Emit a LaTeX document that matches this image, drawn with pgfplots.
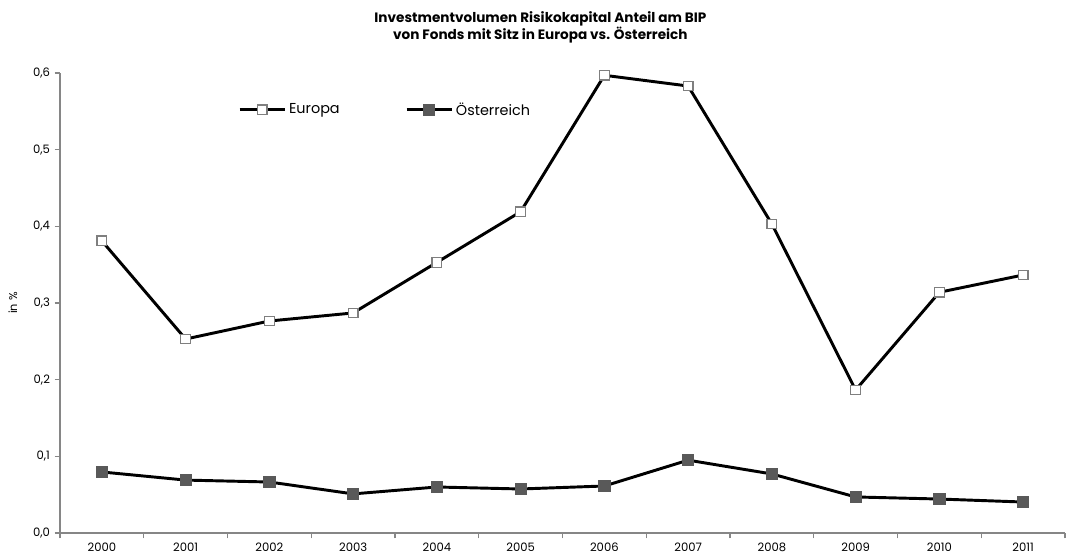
\documentclass[border=0pt]{standalone}
\usepackage{pgfplots}
\pgfplotsset{compat=1.18}
\usepackage{fontspec}
\setmainfont{Poppins}
\definecolor{axisgray}{HTML}{868686}
\definecolor{markgray}{HTML}{595959}
\definecolor{edgegray}{HTML}{7F7F7F}
\begin{document}
\begin{tikzpicture}
\begin{axis}[
    scale only axis,
    width=753.75pt, height=345pt,
    xmin=-0.5, xmax=11.5,
    ymin=0, ymax=0.6,
    axis x line*=bottom, axis y line*=left,
    axis line style={draw=axisgray, line width=0.9pt, -},
    xtick={0,...,11},
    xticklabels={2000,2001,2002,2003,2004,2005,2006,2007,2008,2009,2010,2011},
    major x tick style={draw=none},
    minor xtick={-0.5,0.5,...,11.5},
    minor x tick style={draw=axisgray, line width=0.9pt},
    minor tick length=4pt,
    ytick={0,0.1,...,0.6},
    y tick style={draw=axisgray, line width=0.9pt},
    major tick length=4pt,
    tick align=outside,
    /pgf/number format/assume math mode=true,
    yticklabel style={/pgf/number format/.cd, use comma, fixed, fixed zerofill, precision=1},
    ticklabel style={font=\fontsize{8.7pt}{10pt}\selectfont},
    ylabel={in \%},
    ylabel style={font=\fontsize{8.5pt}{10pt}\selectfont, yshift=5pt},
    title={Investmentvolumen Risikokapital Anteil am BIP\\von Fonds mit Sitz in Europa vs. Österreich},
    title style={align=center, font=\bfseries\fontsize{10.2pt}{13pt}\selectfont, at={(rel axis cs:0.478,1)}, anchor=south, yshift=12.5pt},
    legend columns=2,
    legend style={draw=none, fill=none, at={(rel axis cs:0.173,0.92)}, anchor=west,
        font=\fontsize{10.8pt}{12pt}\selectfont,
        /tikz/every even column/.append style={column sep=47pt}},
    legend image code/.code={
        \draw[#1, mark repeat=2, mark phase=2] plot coordinates {(0pt,0pt) (17pt,0pt) (34pt,0pt)};},
]
\addplot[black, line width=2.2pt, mark=square*, mark size=3.6pt,
    mark options={fill=white, draw=edgegray, line width=0.9pt}]
    coordinates {
    (0,0.381) (1,0.253) (2,0.2765) (3,0.287) (4,0.353) (5,0.419)
    (6,0.597) (7,0.583) (8,0.403) (9,0.1865) (10,0.314) (11,0.3365)
    };
\addlegendentry{Europa}
\addplot[black, line width=2.2pt, mark=square*, mark size=4.2pt,
    mark options={fill=markgray, draw=markgray, line width=0.5pt}]
    coordinates {
    (0,0.0796) (1,0.069) (2,0.0665) (3,0.051) (4,0.060) (5,0.0574)
    (6,0.0613) (7,0.095) (8,0.077) (9,0.047) (10,0.0443) (11,0.0404)
    };
\addlegendentry{Österreich}
\end{axis}
\pgfresetboundingbox
\path[use as bounding box] (current axis.south west) ++(-45pt,-17.25pt) rectangle ++(806.25pt,417pt);
\end{tikzpicture}
\end{document}
